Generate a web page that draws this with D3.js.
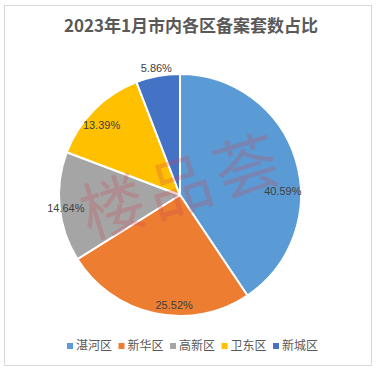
<!DOCTYPE html>
<html><head><meta charset="utf-8">
<script src="https://cdn.jsdelivr.net/npm/d3@7"></script>
<style>html,body{margin:0;padding:0;background:#fff;}svg{display:block;}</style>
</head><body>
<script>
const title = "2023年1月市内各区备案套数占比";
const districts = ["湛河区", "新华区", "高新区", "卫东区", "新城区"];
const shares = [40.59, 25.52, 14.64, 13.39, 5.86];
const colors = ["#5B9BD5", "#ED7D31", "#A5A5A5", "#FFC000", "#4472C4"];
// label placement (angle shift in degrees, radius factor) mimicking Excel "best fit"
const labelShift = [15, -9, -1, -3, 0];
const labelRadius = [0.85, 0.91, 0.95, 0.87, 1.07];
const watermark = ["楼", "品", "荟"];

const W = 380, H = 372;
const cx = 180, cy = 195, R = 121;
const svg = d3.select("body").append("svg").attr("width", W).attr("height", H);
svg.append("rect").attr("width", W).attr("height", H).attr("fill", "#fff");
svg.append("rect").attr("x", 4.5).attr("y", 5.5).attr("width", 367).attr("height", 360)
  .attr("fill", "none").attr("stroke", "#d9d9d9");

svg.append("text").attr("x", 191).attr("y", 32).attr("text-anchor", "middle")
  .attr("font-family", "'Noto Sans CJK SC', sans-serif").attr("font-weight", "bold")
  .attr("font-size", 17).attr("fill", "#595959").text(title);

const data = districts.map((d, i) => ({ name: d, value: shares[i], i }));
const pie = d3.pie().value(d => d.value).sort(null);
const arcs = pie(data);
const arc = d3.arc().innerRadius(0).outerRadius(R);
const g = svg.append("g").attr("transform", `translate(${cx},${cy})`);
g.selectAll("path").data(arcs).join("path")
  .attr("d", arc).attr("fill", d => colors[d.data.i])
  .attr("stroke", "#fff").attr("stroke-width", 2).attr("stroke-linejoin", "round");

g.selectAll("text.lbl").data(arcs).join("text").attr("class", "lbl")
  .attr("x", d => { const a = (d.startAngle + d.endAngle) / 2 + labelShift[d.data.i] * Math.PI / 180; return Math.sin(a) * R * labelRadius[d.data.i]; })
  .attr("y", d => { const a = (d.startAngle + d.endAngle) / 2 + labelShift[d.data.i] * Math.PI / 180; return -Math.cos(a) * R * labelRadius[d.data.i]; })
  .attr("dy", "0.35em").attr("text-anchor", "middle")
  .attr("font-family", "'Liberation Sans', Arial, sans-serif").attr("font-size", 11)
  .attr("fill", "#404040").text(d => d.data.value.toFixed(2) + "%");

// watermark
const wm = svg.append("g").attr("transform", "translate(180,188) rotate(-17)");
wm.selectAll("text").data(watermark).join("text")
  .attr("x", (d, i) => (i - 1) * 70).attr("y", 22).attr("text-anchor", "middle")
  .attr("font-family", "'Noto Sans CJK SC', sans-serif").attr("font-weight", 400)
  .attr("font-size", 64).attr("fill", "rgba(205,70,80,0.26)").text(d => d);

// legend
const legX = d3.scalePoint().domain(districts).range([67, 273]);
const leg = svg.append("g");
const items = leg.selectAll("g").data(districts).join("g")
  .attr("transform", d => `translate(${legX(d)},346)`);
items.append("rect").attr("x", 0).attr("y", -3).attr("width", 6).attr("height", 6)
  .attr("fill", (d, i) => colors[i]);
items.append("text").attr("x", 9).attr("y", 0).attr("dy", "0.36em")
  .attr("font-family", "'Noto Sans CJK SC', sans-serif").attr("font-size", 12)
  .attr("fill", "#595959").text(d => d);
</script>
</body></html>
